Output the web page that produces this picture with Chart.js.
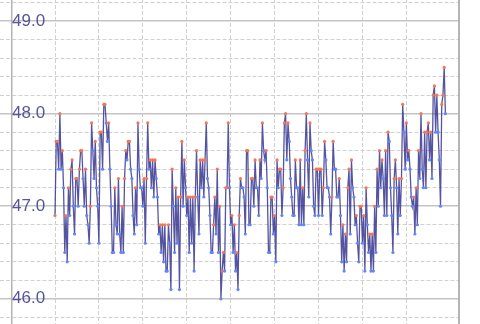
<!DOCTYPE html>
<html>
<head>
<meta charset="utf-8">
<script src="https://cdn.jsdelivr.net/npm/chart.js@4.4.1/dist/chart.umd.min.js"></script>
<style>
    html, body {
        margin: 0;
        padding: 0;
        background-color: #fff;
        overflow: hidden;
    }
    .chart-box {
        position: relative;
        width: 480px;
        height: 324px;
        overflow: hidden;
    }
    /* the plot area sits 5px inside the canvas, so pull the canvas up to let it fill the box */
    #chart {
        position: absolute;
        left: 0;
        top: -5px;
        display: block;
    }
</style>
</head>
<body>
<div class="chart-box">
    <canvas id="chart" width="480" height="334"></canvas>
</div>
<script>
// readings, one per sample
const readings = [
    46.9, 47.7, 47.7, 47.4, 48.0, 47.4, 47.6, 47.2, 46.5, 46.9,
    46.4, 47.2, 46.9, 47.4, 47.5, 47.0, 46.7, 47.3, 47.3, 47.0,
    47.4, 47.6, 47.6, 47.3, 47.0, 47.4, 46.9, 46.8, 46.6, 47.0,
    47.9, 47.6, 47.3, 47.7, 47.2, 47.0, 46.6, 47.8, 47.8, 47.4,
    48.1, 48.1, 47.9, 47.7, 47.9, 47.4, 47.0, 46.5, 46.5, 47.2,
    46.8, 46.7, 47.3, 46.7, 46.5, 47.0, 46.5, 47.3, 47.6, 47.5,
    47.7, 47.7, 47.4, 47.3, 46.9, 46.7, 47.2, 46.8, 47.9, 47.4,
    47.2, 47.2, 47.0, 47.3, 46.6, 47.3, 47.9, 47.4, 47.5, 47.2,
    47.5, 47.1, 47.5, 47.3, 47.1, 46.7, 46.8, 46.5, 46.8, 46.4,
    46.8, 46.3, 46.3, 46.8, 46.6, 46.1, 47.4, 47.0, 46.5, 47.2,
    46.6, 47.1, 46.1, 47.1, 47.7, 47.0, 47.5, 47.2, 46.9, 47.1,
    46.5, 47.1, 46.6, 47.1, 46.3, 47.1, 47.6, 47.1, 46.7, 47.5,
    47.2, 47.5, 47.1, 47.5, 47.9, 47.3, 47.2, 46.9, 46.5, 46.5,
    46.8, 47.1, 46.7, 47.4, 46.5, 47.0, 46.0, 46.3, 46.5, 46.3,
    47.2, 47.2, 47.9, 47.2, 46.8, 46.9, 46.5, 46.8, 46.3, 46.5,
    46.1, 46.9, 47.3, 47.2, 47.2, 47.1, 46.7, 47.6, 47.6, 46.8,
    46.8, 47.3, 47.3, 47.0, 47.5, 47.2, 47.2, 46.9, 47.5, 47.3,
    47.9, 47.6, 47.5, 47.6, 47.2, 46.5, 46.5, 47.1, 47.1, 46.7,
    46.9, 46.4, 47.5, 47.2, 47.4, 47.4, 46.9, 47.2, 47.9, 48.0,
    47.5, 47.9, 47.7, 47.3, 47.1, 46.9, 46.9, 47.5, 47.2, 47.2,
    46.8, 47.5, 46.8, 47.2, 46.8, 47.6, 48.0, 47.5, 47.1, 47.9,
    47.6, 47.5, 47.0, 46.9, 47.4, 47.4, 46.9, 47.4, 47.4, 46.9,
    47.2, 47.7, 47.5, 47.2, 47.2, 47.1, 46.7, 47.1, 47.7, 47.4,
    47.4, 47.1, 47.1, 47.3, 46.9, 46.4, 46.8, 46.3, 46.7, 46.4,
    47.2, 47.4, 46.7, 47.5, 47.2, 47.1, 46.8, 46.9, 46.6, 46.4,
    47.0, 47.0, 46.6, 46.9, 46.3, 47.2, 46.8, 46.5, 46.7, 46.3,
    46.7, 46.3, 47.0, 46.5, 47.4, 47.0, 47.6, 47.2, 47.5, 47.3,
    46.9, 47.6, 46.9, 47.8, 47.7, 47.2, 46.9, 46.5, 47.3, 47.5,
    47.2, 46.7, 47.3, 46.9, 47.3, 48.1, 47.8, 47.4, 47.9, 47.5,
    47.6, 47.4, 47.1, 47.0, 47.1, 46.7, 47.2, 46.8, 47.6, 47.3,
    48.0, 47.4, 47.2, 47.8, 47.2, 47.8, 47.9, 47.5, 47.8, 47.3,
    48.2, 48.3, 47.8, 48.2, 47.8, 47.5, 47.0, 48.1, 48.2, 48.5,
    48.0
]

// visible window of the value axis
const yMin = 45.717
const yMax = 49.239
const yStep = 0.2

// visible window of the sample axis, one grid line every 36 samples
const xMin = -35.25
const xMax = 331.15
const xStep = 36

const upColor = '#f47654'
const downColor = '#6385f7'

const isMajor = (v) => Math.abs(v - Math.round(v)) < 1e-6

// orange while the series climbs, blue while it falls
let rising = true
const pointColors = readings.map((v, i) => {
    if (i > 0 && v > readings[i - 1]) rising = true
    if (i > 0 && v < readings[i - 1]) rising = false
    return rising ? upColor : downColor
})

const ctx = document.getElementById('chart').getContext('2d')
const myChart = new Chart(ctx, {
    type: 'line',
    data: {
        datasets: [{
            data: readings.map((v, i) => ({ x: i, y: v })),
            borderColor: 'rgba(54, 54, 145, 0.85)',
            borderWidth: 1.3,
            tension: 0,
            pointRadius: 1.6,
            pointBorderWidth: 0,
            pointBackgroundColor: pointColors,
            fill: false,
        }]
    },
    options: {
        responsive: false,
        animation: false,
        layout: {
            padding: { left: 0, top: 0, right: 21, bottom: 0 }
        },
        plugins: {
            legend: { display: false },
            tooltip: { enabled: false },
        },
        scales: {
            x: {
                type: 'linear',
                min: xMin,
                max: xMax,
                ticks: {
                    display: false,
                    stepSize: xStep,
                    includeBounds: false,
                    autoSkip: false,
                },
                grid: {
                    drawTicks: false,
                    color: (c) => c.tick && c.tick.value < readings.length ? '#d0d0d0' : 'rgba(0,0,0,0)',
                    lineWidth: 1,
                },
                border: {
                    display: false,
                    dash: [4, 2],
                },
            },
            y: {
                position: 'left',
                min: yMin,
                max: yMax,
                afterFit: (axis) => {
                    axis.paddingTop = 0
                    axis.paddingBottom = 0
                },
                ticks: {
                    stepSize: yStep,
                    includeBounds: false,
                    autoSkip: false,
                    mirror: true,
                    padding: 0,
                    color: '#55559c',
                    font: { family: 'Liberation Sans, Arial, sans-serif', size: 17 },
                    callback: (v) => isMajor(v) ? v.toFixed(1) : '',
                },
                grid: {
                    tickLength: 12,
                    color: (c) => c.tick && isMajor(c.tick.value) ? '#c4c4c4' : '#d0d0d0',
                    lineWidth: (c) => c.tick && isMajor(c.tick.value) ? 1.5 : 1,
                    tickBorderDash: (c) => c.tick && isMajor(c.tick.value) ? [] : [4, 2],
                },
                border: {
                    color: '#b4b4b4',
                    width: 1.5,
                    dash: (c) => c.tick && isMajor(c.tick.value) ? [] : [4, 2],
                },
            },
            yRight: {
                position: 'right',
                ticks: { display: false },
                grid: { drawOnChartArea: false, drawTicks: false },
                border: { color: '#b4b4b4', width: 2 },
            },
        },
    },
})
</script>
</body>
</html>
